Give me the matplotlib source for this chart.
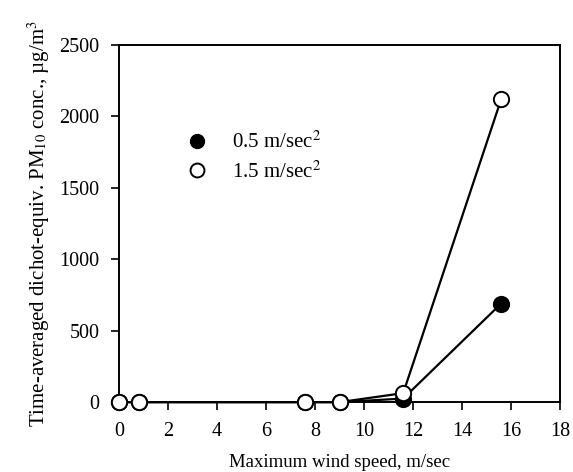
import numpy as np
import matplotlib.pyplot as plt
from matplotlib.lines import Line2D

plt.rcParams['font.family'] = ['Liberation Serif', 'DejaVu Serif']
plt.rcParams['mathtext.fontset'] = 'stix'

wind_speed = [0, 0.8, 7.6, 9.0, 11.6, 15.6]
conc_05 = [0, 0, 0, 0, 25, 690]
conc_15 = [0, 0, 0, 0, 63, 2120]
labels = ['0.5 m/sec$^2$', '1.5 m/sec$^2$']

fig = plt.figure(figsize=(5.73, 4.72), dpi=100)
ax = fig.add_axes([0.2077, 0.148, 0.7696, 0.757])

ax.plot(wind_speed, conc_05, color='black', lw=1.6, marker='o', ms=11,
        mfc='black', mec='black', mew=1.4, zorder=3)
ax.plot(wind_speed, conc_15, color='black', lw=1.6, marker='o', ms=11,
        mfc='white', mec='black', mew=1.4, zorder=4)

ax.set_xlim(0, 18)
ax.set_ylim(0, 2500)
ax.set_xticks(np.arange(0, 19, 2))
ax.set_yticks(np.arange(0, 2501, 500))
ax.tick_params(direction='out', length=6, width=1.2, labelsize=14.5, pad=8)
for s in ax.spines.values():
    s.set_linewidth(1.4)
for l in ax.lines:
    l.set_clip_on(False)

ax.set_xlabel('Maximum wind speed, m/sec', fontsize=13.5, labelpad=10)
ax.set_ylabel('Time-averaged dichot-equiv. PM$_{10}$ conc., µg/m$^3$',
              fontsize=15, labelpad=5)

handles = [
    Line2D([], [], ls='none', marker='o', ms=10, mfc='black', mec='black'),
    Line2D([], [], ls='none', marker='o', ms=10, mfc='white', mec='black', mew=1.4),
]
ax.legend(handles, labels, loc='upper left', bbox_to_anchor=(0.11, 0.81),
          frameon=False, fontsize=15, handletextpad=1.2, labelspacing=0.4,
          handlelength=1.0)

fig.savefig('out.png', dpi=100)
